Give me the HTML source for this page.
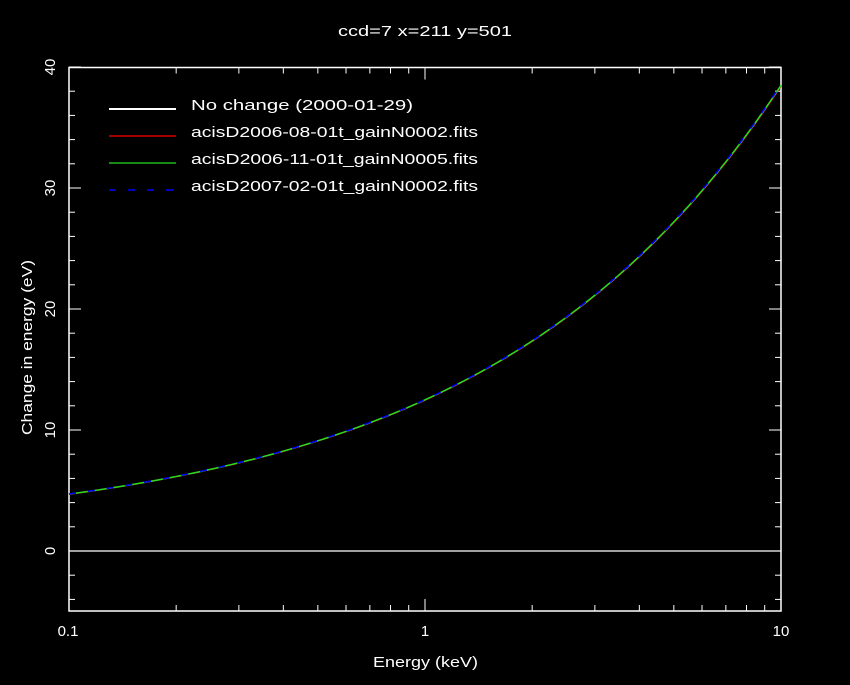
<!DOCTYPE html>
<html><head><meta charset="utf-8"><style>
html,body{margin:0;padding:0;background:#000;}
svg text{font-family:"Liberation Sans",sans-serif;fill:#fff;font-size:15px;}
</style></head><body>
<svg id="s" width="850" height="680" xmlns="http://www.w3.org/2000/svg">
<rect width="850" height="680" fill="#000"/>
<text x="338" y="36" textLength="174" lengthAdjust="spacingAndGlyphs">ccd=7 x=211 y=501</text>
<text x="373" y="667" textLength="105" lengthAdjust="spacingAndGlyphs">Energy (keV)</text>
<text transform="translate(32,435) rotate(-90)" textLength="175" lengthAdjust="spacingAndGlyphs">Change in energy (eV)</text>
<g id="ticks" stroke="#fff" stroke-width="1"></g>
<rect x="69" y="67.5" width="712" height="543.5" fill="none" stroke="#fff" stroke-width="1.5"/>
<line x1="69" y1="551" x2="781" y2="551" stroke="#fff" stroke-width="1.2"/>
<text x="68" y="636" text-anchor="middle">0.1</text>
<text x="425" y="636" text-anchor="middle">1</text>
<text x="781" y="636" text-anchor="middle">10</text>
<text transform="translate(55,67) rotate(-90)" text-anchor="middle">40</text>
<text transform="translate(55,188) rotate(-90)" text-anchor="middle">30</text>
<text transform="translate(55,309) rotate(-90)" text-anchor="middle">20</text>
<text transform="translate(55,430) rotate(-90)" text-anchor="middle">10</text>
<text transform="translate(55,551) rotate(-90)" text-anchor="middle">0</text>
<g id="curves" fill="none" stroke-width="1.5"></g>
<line x1="109" y1="109" x2="176" y2="109" stroke="#fff" stroke-width="2"/>
<line x1="109" y1="136" x2="176" y2="136" stroke="#f00" stroke-width="1.3"/>
<line x1="109" y1="163" x2="176" y2="163" stroke="#2d2" stroke-width="1.3"/>
<line x1="109" y1="190" x2="176" y2="190" stroke="#00f" stroke-width="1.5" stroke-dasharray="7,12"/>
<text x="191" y="110" textLength="222" lengthAdjust="spacingAndGlyphs">No change (2000-01-29)</text>
<text x="191" y="137" textLength="287" lengthAdjust="spacingAndGlyphs">acisD2006-08-01t_gainN0002.fits</text>
<text x="191" y="164" textLength="287" lengthAdjust="spacingAndGlyphs">acisD2006-11-01t_gainN0005.fits</text>
<text x="191" y="191" textLength="287" lengthAdjust="spacingAndGlyphs">acisD2007-02-01t_gainN0002.fits</text>
</svg>
<script>
function X(e){return 69+356*(Math.log10(e)+1);}
function Y(v){return 551-12.1*v;}
var t=document.getElementById("ticks"),h="";
for(var d=0;d<2;d++)for(var k=1;k<10;k++){var x=X(Math.pow(10,d-1)*k);var L=k==1?12:6;
h+='<line x1="'+x+'" y1="611" x2="'+x+'" y2="'+(611-L)+'"/><line x1="'+x+'" y1="67.5" x2="'+x+'" y2="'+(67.5+L)+'"/>';}
for(var v=-4;v<=40;v+=2){var y=Y(v);var L=(v%10==0)?12:6;
h+='<line x1="69" y1="'+y+'" x2="'+(69+L)+'" y2="'+y+'"/><line x1="781" y1="'+y+'" x2="'+(781-L)+'" y2="'+y+'"/>';}
t.innerHTML=h;
var c=document.getElementById("curves"),o="";
var cols=[["#f00",0.9,""],["#2d2",0.2,""],["#00f",-0.6,'stroke-dasharray="7,12"']];
cols.forEach(function(cc){var p="";for(var i=0;i<=200;i++){var u=-1+i/100;var e=Math.pow(10,u);var v=11.14*Math.pow(e,0.523)+1.36;
var y=Y(v)+cc[1]*(v/38);p+=(i?"L":"M")+X(e).toFixed(2)+","+y.toFixed(2);}
o+='<path d="'+p+'" stroke="'+cc[0]+'" '+cc[2]+'/>';});
c.innerHTML=o;
</script>
</body></html>
